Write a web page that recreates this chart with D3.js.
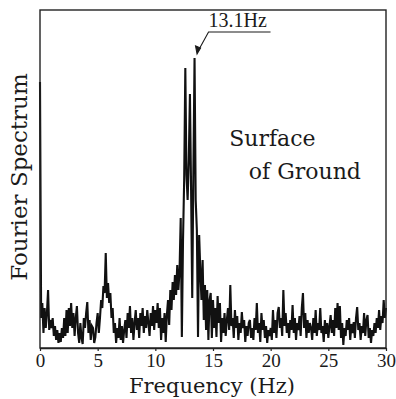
<!DOCTYPE html>
<html>
<head>
<meta charset="utf-8">
<script src="https://cdn.jsdelivr.net/npm/d3@7"></script>
<style>
body { margin: 0; background: #fff; }
svg { display: block; }
</style>
</head>
<body>
<div id="chart"></div>
<script>
// Fourier spectrum, surface of ground. sampled every 0.1 Hz, arbitrary units
var freqStep = 0.1;
var amp_0_5 = [266, 30, 45, 15, 40, 20, 35, 58, 18, 28,
               20, 30, 12, 22, 8, 18, 5, 15, 6, 20,
               10, 30, 12, 38, 15, 40, 22, 45, 20, 35,
               12, 30, 42, 15, 5, 25, 10, 4, 30, 20,
               35, 46, 15, 28, 8, 22, 20, 5, 11, 25];
var amp_5_10 = [35, 15, 30, 48, 40, 62, 55, 95, 50, 65,
                45, 55, 30, 40, 15, 25, 5, 20, 10, 30,
                8, 22, 5, 18, 28, 10, 35, 20, 42, 15,
                30, 8, 25, 38, 18, 30, 10, 35, 22, 40,
                15, 32, 20, 38, 25, 12, 35, 22, 42, 18];
var amp_10_15 = [38, 25, 45, 20, 40, 8, 30, 15, 35, 6,
                 33, 48, 23, 58, 38, 66, 48, 73, 53, 83,
                 58, 78, 130, 11, 108, 168, 280, 173, 148, 188,
                 254, 158, 50, 178, 290, 148, 118, 11, 113, 78,
                 48, 88, 28, 63, 18, 58, 8, 48, 55, 10];
var amp_15_20 = [48, 20, 40, 11, 52, 25, 45, 6, 30, 15,
                 35, 12, 28, 40, 18, 63, 22, 30, 10, 38,
                 20, 32, 8, 25, 15, 36, 20, 28, 6, 22,
                 12, 25, 28, 10, 20, 8, 30, 18, 45, 15,
                 25, 6, 35, 18, 28, 10, 22, 5, 18, 12];
var amp_20_25 = [20, 8, 38, 15, 28, 10, 35, 41, 20, 30,
                 12, 58, 22, 35, 15, 25, 10, 28, 18, 43,
                 15, 30, 8, 25, 18, 32, 12, 40, 55, 20,
                 35, 10, 28, 15, 25, 20, 8, 30, 15, 38,
                 12, 25, 18, 40, 15, 22, 6, 28, 14, 25];
var amp_25_30 = [10, 22, 33, 15, 28, 12, 40, 20, 45, 18,
                 42, 10, 25, 3, 20, 12, 28, 18, 30, 8,
                 24, 15, 26, 10, 30, 41, 18, 25, 8, 22,
                 15, 35, 12, 28, 33, 10, 20, 5, 18, 12,
                 25, 15, 30, 20, 38, 18, 32, 25, 48, 30,
                 40];
var xTicks = [0, 5, 10, 15, 20, 25, 30];
var peakLabel = "13.1Hz";

var amps = amp_0_5.concat(amp_5_10, amp_10_15, amp_15_20, amp_20_25, amp_25_30);
var data = amps.map(function(a, i) { return {f: i * freqStep, a: a}; });

var margin = {top: 10, right: 10, bottom: 51, left: 40};
var width = 396 - margin.left - margin.right;
var height = 399 - margin.top - margin.bottom;

var svg = d3.select("#chart").append("svg")
    .attr("width", 396)
    .attr("height", 399);
var g = svg.append("g")
    .attr("transform", "translate(" + margin.left + "," + margin.top + ")");

var x = d3.scaleLinear().domain([0, 30]).range([0, width]);
var y = d3.scaleLinear().domain([0, 338]).range([height, 0]);

var line = d3.line()
    .x(function(d) { return x(d.f); })
    .y(function(d) { return y(d.a); });

g.append("path")
    .datum(data)
    .attr("fill", "none")
    .attr("stroke", "#111")
    .attr("stroke-width", 2.1)
    .attr("stroke-linejoin", "miter")
    .attr("d", line);

// frame
g.append("rect")
    .attr("x", 0).attr("y", 0)
    .attr("width", width).attr("height", height)
    .attr("fill", "none")
    .attr("stroke", "#222")
    .attr("stroke-width", 1.4);

var xAxis = d3.axisBottom(x).tickValues(xTicks).tickSize(3).tickSizeOuter(0);
var ax = g.append("g")
    .attr("transform", "translate(0," + height + ")")
    .call(xAxis);
ax.select(".domain").attr("stroke", "#222").attr("stroke-width", 1.6);
ax.selectAll(".tick line").attr("stroke", "#222").attr("stroke-width", 1.2);
ax.selectAll("text")
    .attr("fill", "#1a1a1a")
    .style("font-family", "'Liberation Serif', serif")
    .style("font-size", "19px");

// axis titles
svg.append("text")
    .attr("x", margin.left + x(15) - 1)
    .attr("y", 393)
    .attr("text-anchor", "middle")
    .style("font-family", "'DejaVu Serif', serif")
    .style("font-size", "21px")
    .attr("fill", "#1a1a1a")
    .text("Frequency (Hz)");

svg.append("text")
    .attr("transform", "translate(27," + (margin.top + y(169) - 2) + ") rotate(-90)")
    .attr("text-anchor", "middle")
    .style("font-family", "'DejaVu Serif', serif")
    .style("font-size", "23px")
    .attr("fill", "#1a1a1a")
    .text("Fourier Spectrum");

// station label
g.append("text")
    .attr("x", x(16.4))
    .attr("y", y(202))
    .style("font-family", "'DejaVu Serif', serif")
    .style("font-size", "22px")
    .attr("fill", "#1a1a1a")
    .text("Surface");
g.append("text")
    .attr("x", x(18.1))
    .attr("y", y(169))
    .style("font-family", "'DejaVu Serif', serif")
    .style("font-size", "22px")
    .attr("fill", "#1a1a1a")
    .text("of Ground");

// peak annotation
var peak = data.reduce(function(m, d) { return d.a > m.a ? d : m; });
var px = x(peak.f), py = y(peak.a);
var ann = g.append("g").attr("stroke", "#1a1a1a").attr("fill", "none").attr("stroke-width", 1.1);
ann.append("path")
    .attr("d", "M" + (px + 76) + "," + (py - 26) + "H" + (px + 14) + "L" + (px + 3) + "," + (py - 6));
ann.append("path")
    .attr("d", "M" + (px + 1) + "," + (py - 12) + "L" + (px + 2.5) + "," + (py - 4) + "L" + (px + 6) + "," + (py - 10) + "Z")
    .attr("fill", "#1a1a1a");
g.append("text")
    .attr("x", px + 14)
    .attr("y", py - 31)
    .style("font-family", "'Liberation Serif', serif")
    .style("font-size", "20px")
    .attr("fill", "#1a1a1a")
    .text(peakLabel);
</script>
</body>
</html>
